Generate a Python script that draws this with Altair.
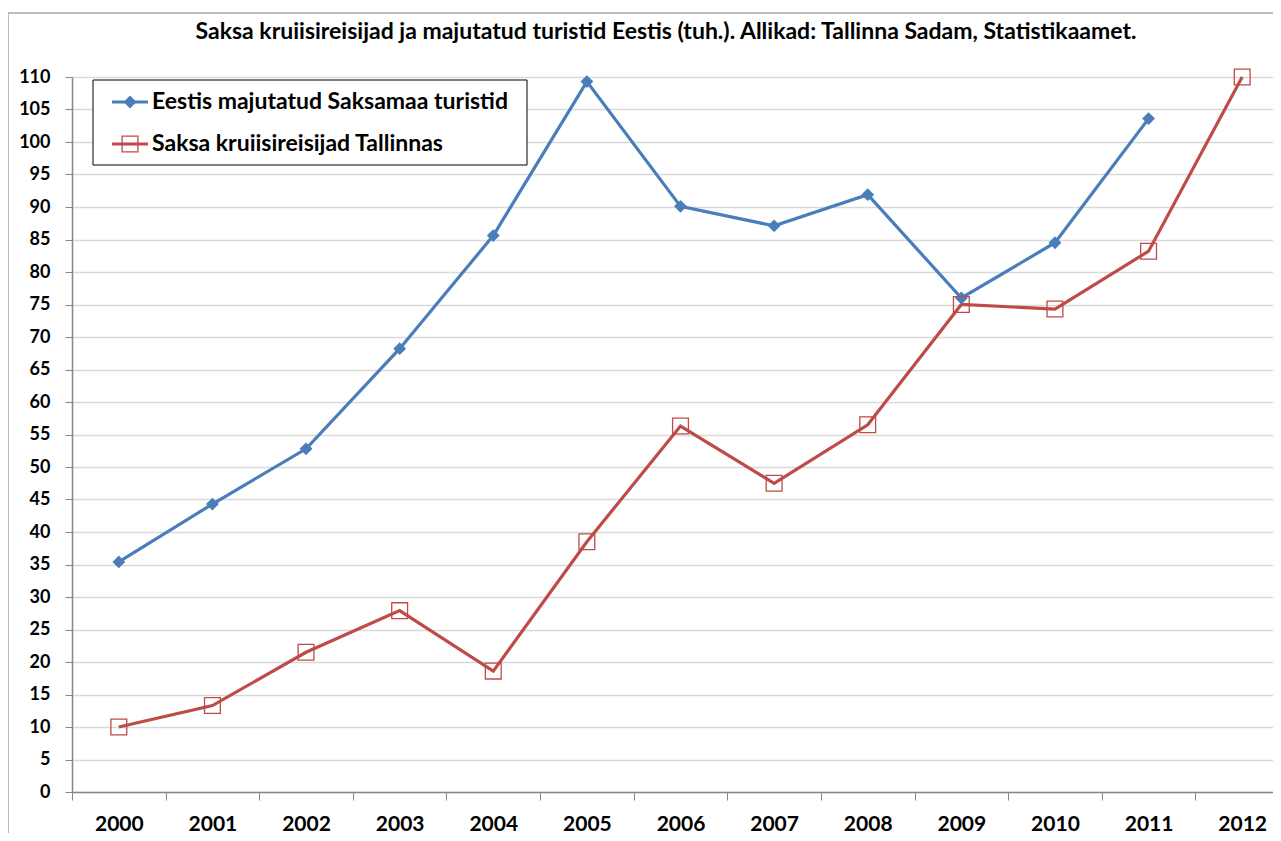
import altair as alt
import pandas as pd

years = [str(y) for y in range(2000, 2013)]
blue_name = "Eestis majutatud Saksamaa turistid"
red_name = "Saksa kruiisireisijad Tallinnas"
blue_vals = [35.4, 44.3, 52.8, 68.2, 85.6, 109.3, 90.1, 87.1, 91.9, 76.0, 84.5, 103.6, None]
red_vals = [10.0, 13.3, 21.5, 27.9, 18.6, 38.5, 56.3, 47.5, 56.5, 75.0, 74.3, 83.2, 110.0]
y_ticks = list(range(0, 111, 5))
title_text = "Saksa kruiisireisijad ja majutatud turistid Eestis (tuh.). Allikad: Tallinna Sadam, Statistikaamet."

BLUE = "#4a7ebb"
RED = "#be4b48"
FONT = "Lato"

rows = []
for y, b, r in zip(years, blue_vals, red_vals):
    if b is not None:
        rows.append({"year": y, "value": b, "series": blue_name})
    rows.append({"year": y, "value": r, "series": red_name})
df = pd.DataFrame(rows)

W, H = 1217, 715

x_enc = alt.X("year:O", scale=alt.Scale(type="band", paddingInner=0, paddingOuter=0, domain=years),
              axis=alt.Axis(title=None, tickBand="extent", labelAngle=0, labelFont=FONT, labelFontWeight="bold",
                            labelFontSize=21, labelColor="black", tickSize=8, tickColor="#868686",
                            domainColor="#868686", domainWidth=1.5, labelPadding=13, grid=False))
y_enc = alt.Y("value:Q", scale=alt.Scale(domain=[0, 110], nice=False),
              axis=alt.Axis(title=None, values=y_ticks, labelOverlap=False, labelFont=FONT,
                            labelFontWeight="bold", labelFontSize=18, labelColor="black", tickSize=7,
                            tickColor="#868686", domainColor="#868686", domainWidth=1.5,
                            gridColor="#d9d9d9", gridWidth=1.5, labelPadding=15))
color_scale = alt.Scale(domain=[blue_name, red_name], range=[BLUE, RED])

base = alt.Chart(df)
lines = base.mark_line(strokeWidth=3.2).encode(
    x=x_enc, y=y_enc, color=alt.Color("series:N", scale=color_scale, legend=None))
blue_pts = base.transform_filter(alt.datum.series == blue_name).mark_point(
    shape="diamond", filled=True, size=165, opacity=1, color=BLUE).encode(x=x_enc, y=y_enc)
red_pts = base.transform_filter(alt.datum.series == red_name).mark_point(
    shape="square", filled=False, size=250, opacity=1, color=RED, strokeWidth=1.3).encode(x=x_enc, y=y_enc)

one = pd.DataFrame({"k": [0]})
frame_top = alt.Chart(one).mark_rule(color="#a6a6a6", strokeWidth=1.5).encode(
    x=alt.value(-64), x2=alt.value(W), y=alt.value(-64))
frame_left = alt.Chart(one).mark_rule(color="#a6a6a6", strokeWidth=1.5).encode(
    x=alt.value(-64), y=alt.value(-64), y2=alt.value(H + 60))

title = alt.Chart(pd.DataFrame({"t": [title_text]})).mark_text(
    align="center", baseline="middle", font=FONT, fontWeight="bold", fontSize=23, color="black").encode(
    x=alt.value(594), y=alt.value(-45), text="t:N")

leg_box = alt.Chart(one).mark_rect(fill="white", stroke="black", strokeWidth=1).encode(
    x=alt.value(21), x2=alt.value(455), y=alt.value(3), y2=alt.value(88))

def leg_entry(name, color, yv, shape, filled, size, sw):
    d = pd.DataFrame({"series": [name]})
    rule = alt.Chart(d).mark_rule(color=color, strokeWidth=3.2).encode(
        x=alt.value(40), x2=alt.value(76), y=alt.value(yv))
    pt = alt.Chart(d).mark_point(shape=shape, filled=filled, size=size, color=color, opacity=1,
                                 strokeWidth=sw).encode(x=alt.value(58), y=alt.value(yv))
    txt = alt.Chart(d).mark_text(align="left", baseline="middle", font=FONT, fontWeight="bold",
                                 fontSize=23, color="black").encode(
        x=alt.value(80), y=alt.value(yv), text="series:N")
    return rule + pt + txt

leg1 = leg_entry(blue_name, BLUE, 25, "diamond", True, 165, 1)
leg2 = leg_entry(red_name, RED, 67, "square", False, 250, 1.3)

chart = alt.layer(frame_top, frame_left, title, lines, blue_pts, red_pts, leg_box, leg1, leg2).properties(
    width=W, height=H,
    autosize=alt.AutoSizeParams(type="none"),
    padding={"left": 64, "top": 69, "right": -16, "bottom": 41},
).configure_view(stroke=None).configure(background="white")

chart.save("out.html", embed_options={"renderer": "svg", "actions": False})
